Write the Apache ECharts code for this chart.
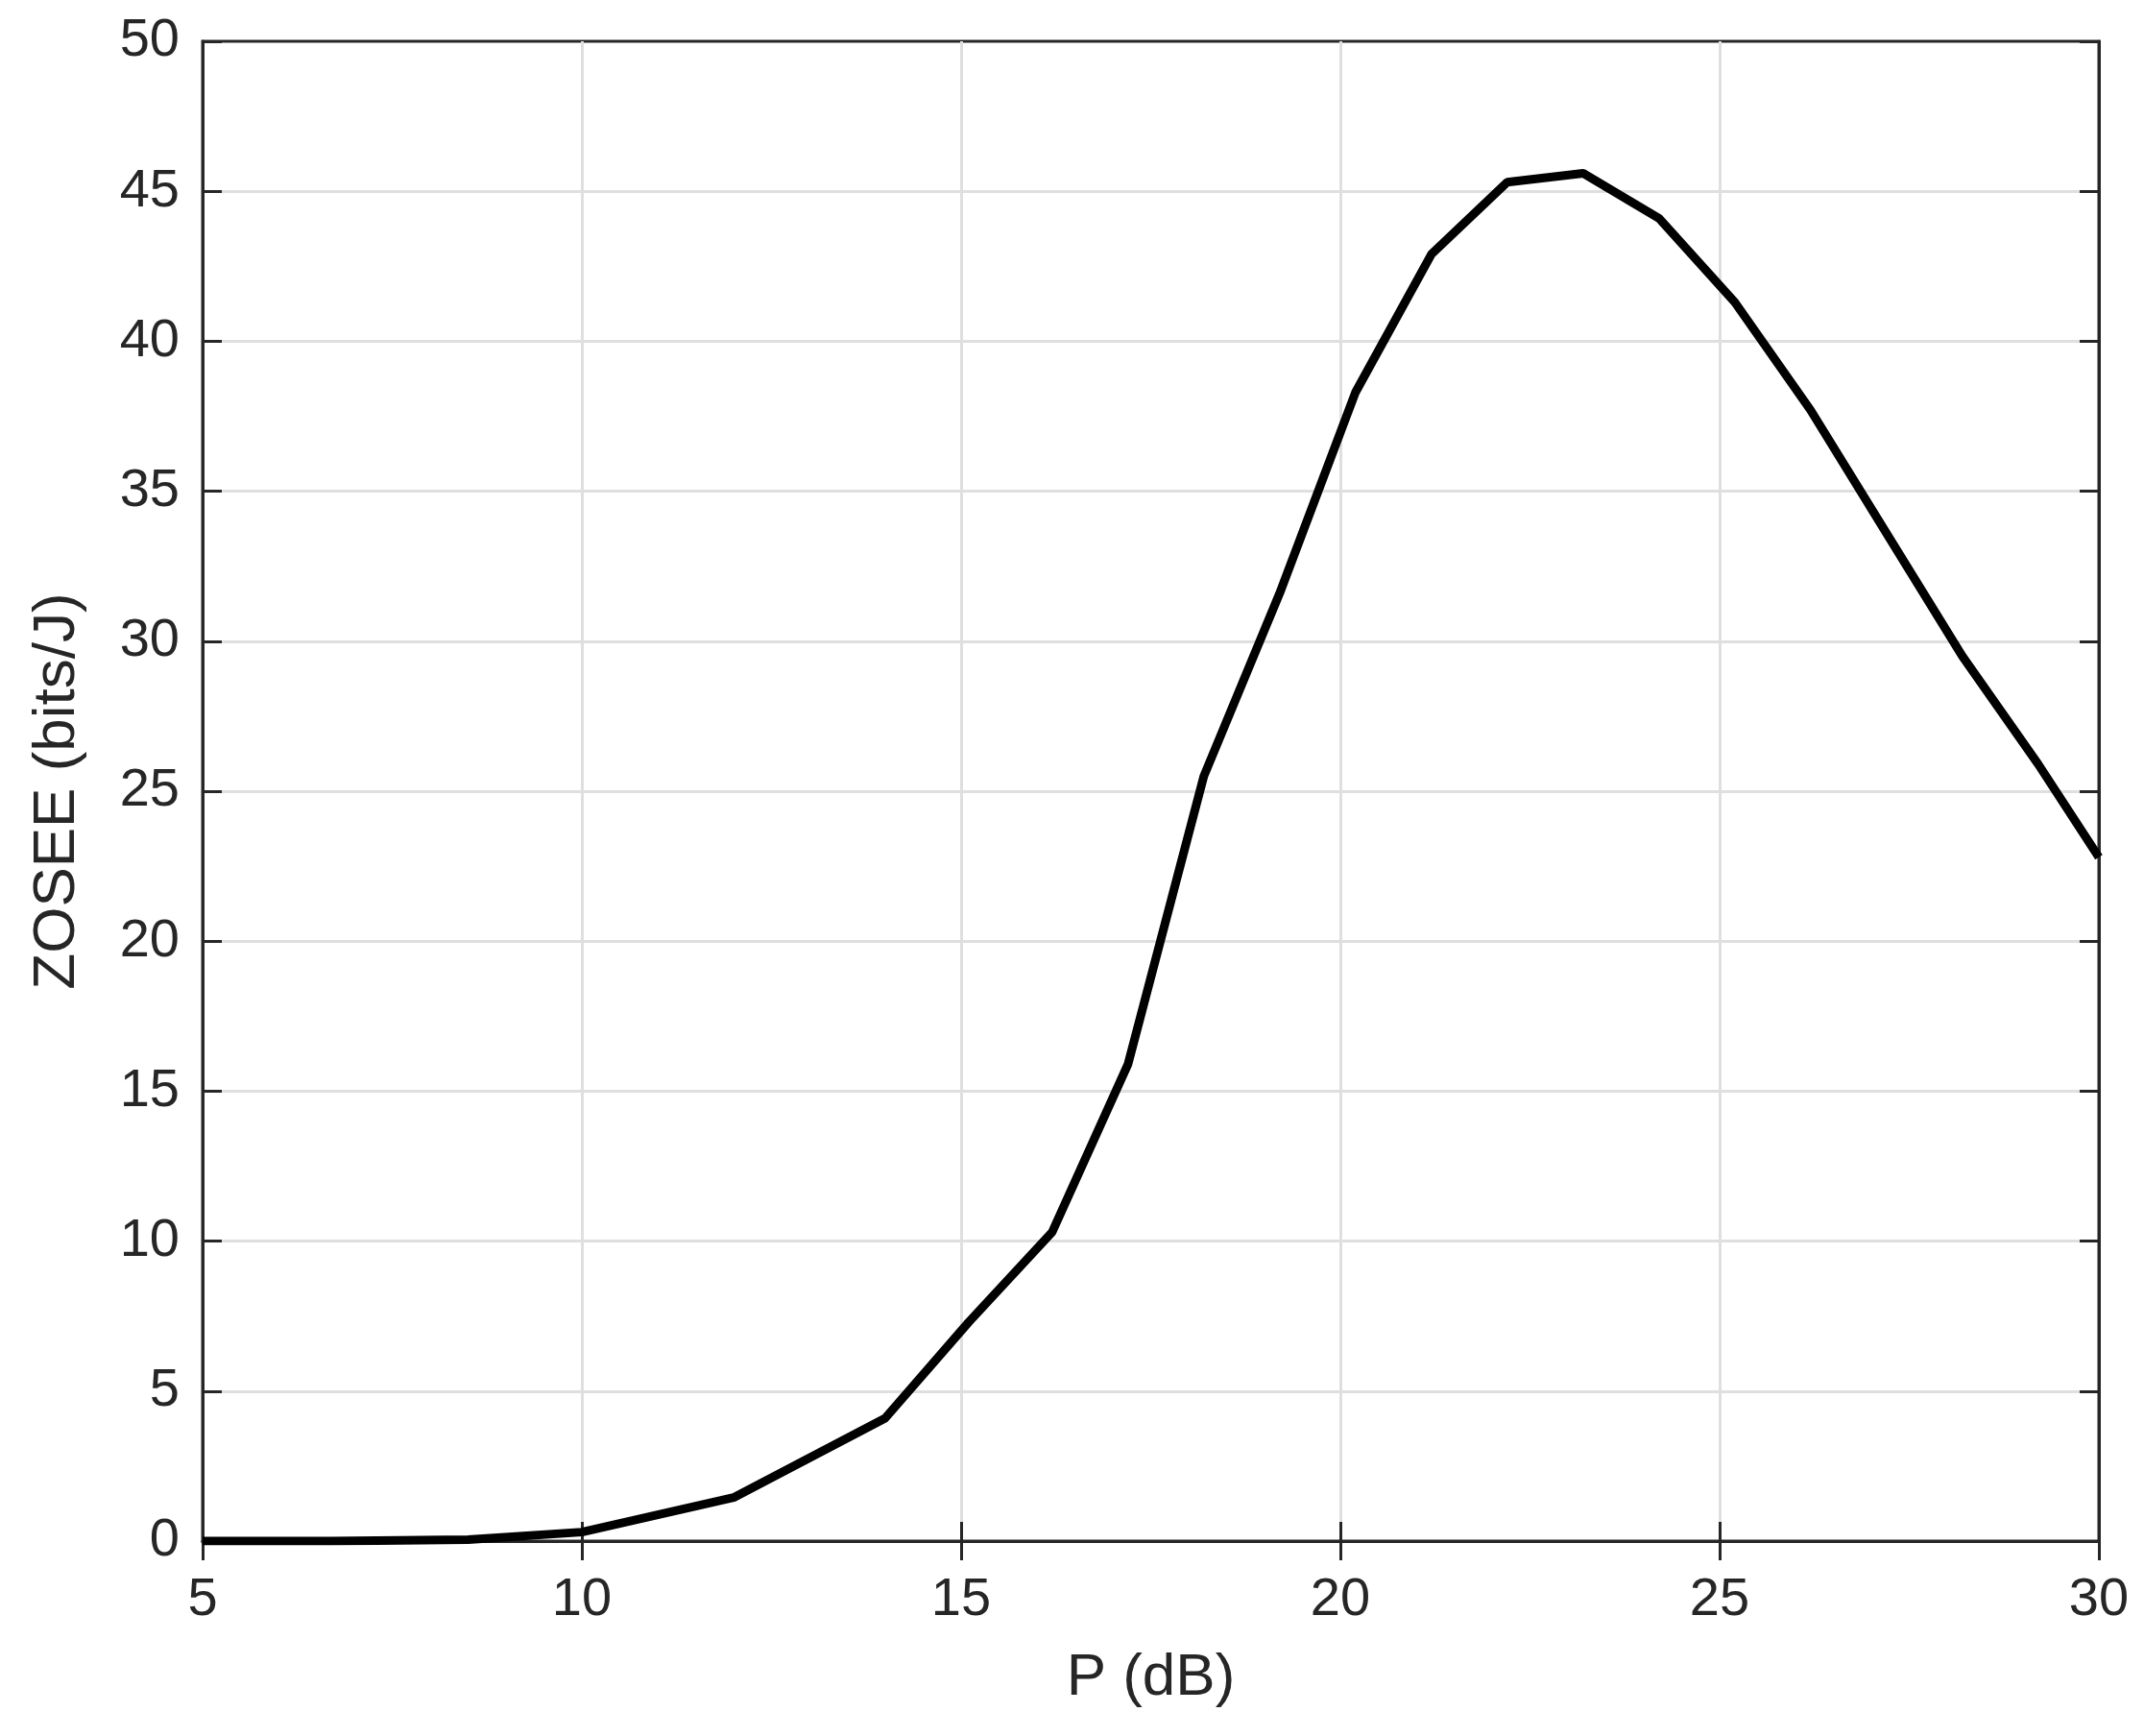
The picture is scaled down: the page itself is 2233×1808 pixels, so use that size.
<!DOCTYPE html>
<html>
<head>
<meta charset="utf-8">
<script src="https://cdn.jsdelivr.net/npm/echarts@6/dist/echarts.min.js"></script>
<style>html,body{margin:0;padding:0;background:#fff}#main{width:2233px;height:1808px}</style>
</head>
<body>
<div id="main"></div>
<script>
// P (dB) and ZOSEE (bits/J)
var powerDb = [5, 6.7, 8.5, 10, 12, 14, 15.1, 16.2, 17.2, 18.2, 19.2, 20.2, 21.2, 22.2, 23.2, 24.2, 25.2, 26.2, 27.2, 28.2, 29.2, 30];
var zosee = [0, 0, 0.05, 0.3, 1.45, 4.1, 7.3, 10.3, 15.9, 25.5, 31.6, 38.3, 42.9, 45.3, 45.6, 44.1, 41.3, 37.7, 33.6, 29.5, 25.9, 22.8];

var font = 'Liberation Sans, Arial, sans-serif';
var chart = echarts.init(document.getElementById('main'));
var lineStyle = {color: '#262626', width: 3};
chart.setOption({
  animation: false,
  grid: {left: 211, right: 47, top: 43, bottom: 203, show: true, borderColor: '#262626', borderWidth: 3},
  xAxis: [{
    type: 'value', min: 5, max: 30, interval: 5,
    name: 'P (dB)', nameLocation: 'middle', nameGap: 112,
    nameTextStyle: {fontFamily: font, fontSize: 62, color: '#262626'},
    axisLabel: {fontFamily: font, fontSize: 56, color: '#262626', margin: 34},
    axisLine: {lineStyle: lineStyle},
    axisTick: {inside: true, length: 20, lineStyle: lineStyle},
    splitLine: {showMinLine: false, showMaxLine: false, lineStyle: {color: '#dfdfdf', width: 3}}
  }, {
    type: 'value', min: 5, max: 30, interval: 5, position: 'top',
    axisLabel: {show: false}, axisLine: {lineStyle: lineStyle},
    axisTick: {inside: true, length: 20, lineStyle: lineStyle}, splitLine: {show: false}
  }],
  yAxis: [{
    type: 'value', min: 0, max: 50, interval: 5,
    name: 'ZOSEE (bits/J)', nameLocation: 'middle', nameGap: 120,
    nameTextStyle: {fontFamily: font, fontSize: 62, color: '#262626'},
    axisLabel: {fontFamily: font, fontSize: 56, color: '#262626', margin: 24},
    axisLine: {lineStyle: lineStyle},
    axisTick: {inside: true, length: 20, lineStyle: lineStyle},
    splitLine: {showMinLine: false, showMaxLine: false, lineStyle: {color: '#dfdfdf', width: 3}}
  }, {
    type: 'value', min: 0, max: 50, interval: 5, position: 'right',
    axisLabel: {show: false}, axisLine: {show: true, lineStyle: lineStyle},
    axisTick: {show: true, inside: true, length: 20, lineStyle: lineStyle}, splitLine: {show: false}
  }],
  series: [{
    type: 'line',
    data: powerDb.map(function (p, i) { return [p, zosee[i]]; }),
    showSymbol: false,
    lineStyle: {color: '#000', width: 9},
    clip: true
  }]
});
</script>
</body>
</html>
